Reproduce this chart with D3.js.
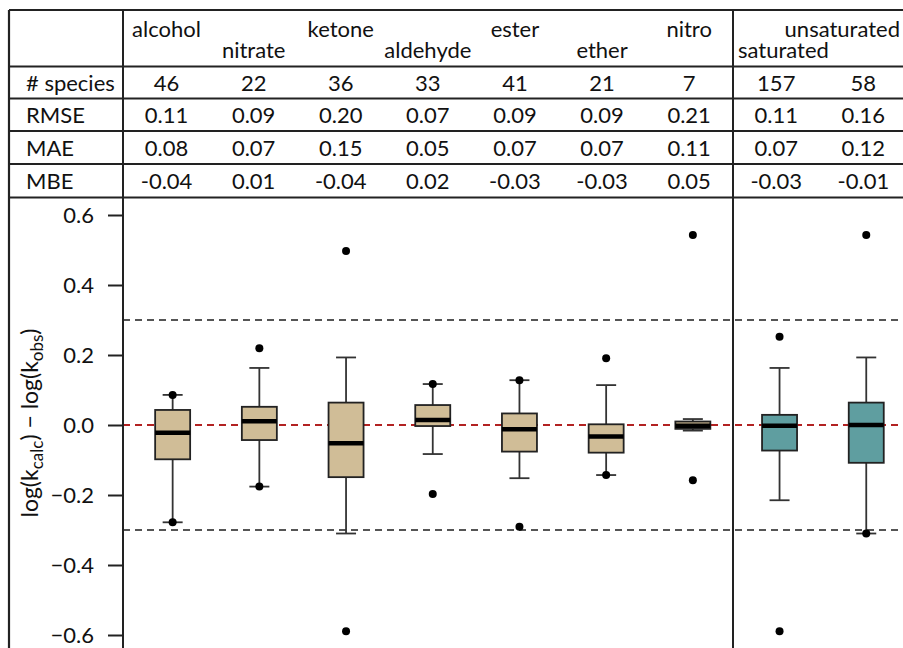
<!DOCTYPE html>
<html>
<head>
<meta charset="utf-8">
<script src="https://cdn.jsdelivr.net/npm/d3@7"></script>
<style>
    body { margin: 0; background: #fff; }
    svg { display: block; font-family: Lato, "Open Sans", sans-serif; }
</style>
</head>
<body>
<svg></svg>
<script>

// table + box data
const categories = ["alcohol", "nitrate", "ketone", "aldehyde", "ester", "ether", "nitro", "saturated", "unsaturated"]
const group = ["tan", "tan", "tan", "tan", "tan", "tan", "tan", "teal", "teal"]
const species = [46, 22, 36, 33, 41, 21, 7, 157, 58]
const rmse = [0.11, 0.09, 0.20, 0.07, 0.09, 0.09, 0.21, 0.11, 0.16]
const mae = [0.08, 0.07, 0.15, 0.05, 0.07, 0.07, 0.11, 0.07, 0.12]
const mbe = [-0.04, 0.01, -0.04, 0.02, -0.03, -0.03, 0.05, -0.03, -0.01]

const whiskerLow = [-0.278, -0.176, -0.310, -0.083, -0.152, -0.143, -0.016, -0.215, -0.310]
const q1 = [-0.098, -0.043, -0.149, -0.003, -0.076, -0.079, -0.011, -0.073, -0.108]
const median = [-0.022, 0.011, -0.052, 0.014, -0.012, -0.033, -0.002, -0.002, 0.000]
const q3 = [0.043, 0.052, 0.064, 0.057, 0.033, 0.002, 0.010, 0.029, 0.064]
const whiskerHigh = [0.086, 0.163, 0.193, 0.117, 0.128, 0.114, 0.017, 0.163, 0.193]
const outliers = [
    [0.086, -0.278],
    [0.219, -0.176],
    [0.497, -0.589],
    [0.117, -0.197],
    [0.128, -0.291],
    [0.191, -0.143],
    [0.543, -0.158],
    [0.252, -0.589],
    [0.543, -0.310]
]

const rowLabels = ["# species", "RMSE", "MAE", "MBE"]
const yTicks = [-0.6, -0.4, -0.2, 0.0, 0.2, 0.4, 0.6]

const w = 903
const h = 648
const frameLeft = 9
const frameTop = 10
const labelCol = 123
const splitX = 733
const rowLines = [66.5, 98.5, 131, 164, 197.5]
const lineColor = "#222"
const fontSize = "22px"

const svg = d3.select("svg")
    .attr("width", w)
    .attr("height", h)

//Scales
const colScale = d3.scaleBand()
    .domain(categories)
    .range([labelCol, labelCol + 87.1 * 9])

const xScale = d3.scaleBand()
    .domain(categories)
    .range([129.3, 129.3 + 86.7 * 9])

const yScale = d3.scaleLinear()
    .domain([-0.6, 0.6])
    .range([635, 215])

const colCenter = c => colScale(c) + colScale.bandwidth() / 2
const boxCenter = c => xScale(c) + xScale.bandwidth() / 2

//Dashed reference lines
svg.append("line")
    .attr("x1", labelCol).attr("x2", w)
    .attr("y1", yScale(0.3)).attr("y2", yScale(0.3))
    .attr("stroke", "#555").attr("stroke-width", 2)
    .attr("stroke-dasharray", "7,5")

svg.append("line")
    .attr("x1", labelCol).attr("x2", w)
    .attr("y1", yScale(-0.3)).attr("y2", yScale(-0.3))
    .attr("stroke", "#555").attr("stroke-width", 2)
    .attr("stroke-dasharray", "7,5")

svg.append("line")
    .attr("x1", labelCol).attr("x2", w)
    .attr("y1", yScale(0)).attr("y2", yScale(0))
    .attr("stroke", "#b22222").attr("stroke-width", 2)
    .attr("stroke-dasharray", "7,5")

//Boxes
const boxW = 35
const capW = 20
const fills = { tan: "#d0bd97", teal: "#5f9ea0" }

const boxes = svg.selectAll("g.box")
    .data(categories)
    .enter()
    .append("g")
    .attr("class", "box")
    .attr("transform", d => `translate(${boxCenter(d)}, 0)`)

boxes.append("line")
    .attr("y1", (d, i) => yScale(whiskerHigh[i]))
    .attr("y2", (d, i) => yScale(whiskerLow[i]))
    .attr("stroke", "#333").attr("stroke-width", 1.8)

boxes.append("line")
    .attr("x1", -capW / 2).attr("x2", capW / 2)
    .attr("y1", (d, i) => yScale(whiskerHigh[i]))
    .attr("y2", (d, i) => yScale(whiskerHigh[i]))
    .attr("stroke", "#333").attr("stroke-width", 1.8)

boxes.append("line")
    .attr("x1", -capW / 2).attr("x2", capW / 2)
    .attr("y1", (d, i) => yScale(whiskerLow[i]))
    .attr("y2", (d, i) => yScale(whiskerLow[i]))
    .attr("stroke", "#333").attr("stroke-width", 1.8)

boxes.append("rect")
    .attr("x", -boxW / 2)
    .attr("width", boxW)
    .attr("y", (d, i) => yScale(q3[i]))
    .attr("height", (d, i) => yScale(q1[i]) - yScale(q3[i]))
    .attr("fill", (d, i) => fills[group[i]])
    .attr("stroke", lineColor).attr("stroke-width", 1.8)

boxes.append("line")
    .attr("x1", -boxW / 2).attr("x2", boxW / 2)
    .attr("y1", (d, i) => yScale(median[i]))
    .attr("y2", (d, i) => yScale(median[i]))
    .attr("stroke", "#000").attr("stroke-width", 4.5)

boxes.selectAll("circle")
    .data((d, i) => outliers[i])
    .enter()
    .append("circle")
    .attr("cy", d => yScale(d))
    .attr("r", 4)
    .attr("fill", "#000")

//Y axis
const leftAxis = d3.axisLeft(yScale)
    .tickValues(yTicks)
    .tickFormat(d3.format(".1f"))
    .tickSize(15)
    .tickPadding(14)

const axisG = svg.append("g")
    .attr("transform", `translate(${labelCol}, 0)`)
    .call(leftAxis)

axisG.select(".domain").remove()
axisG.selectAll(".tick line").attr("stroke", lineColor).attr("stroke-width", 2)
axisG.selectAll(".tick text")
    .attr("fill", "#111")
    .style("font-size", fontSize)
    .style("font-family", "Lato, sans-serif")
    .attr("dy", "0.36em")

//Y label
const yLabel = svg.append("text")
    .attr("transform", "translate(38, 423) rotate(-90)")
    .attr("text-anchor", "middle")
    .attr("fill", "#111")
    .style("font-size", "23px")

yLabel.append("tspan").text("log(k")
yLabel.append("tspan").text("calc").attr("dy", 5).style("font-size", "17px")
yLabel.append("tspan").text(") \u2212 log(k").attr("dy", -5)
yLabel.append("tspan").text("obs").attr("dy", 5).style("font-size", "17px")
yLabel.append("tspan").text(")").attr("dy", -5)

//Table frame
svg.append("line")
    .attr("x1", frameLeft).attr("x2", w)
    .attr("y1", frameTop).attr("y2", frameTop)
    .attr("stroke", lineColor).attr("stroke-width", 2.2)

svg.append("line")
    .attr("x1", frameLeft).attr("x2", frameLeft)
    .attr("y1", frameTop).attr("y2", h)
    .attr("stroke", lineColor).attr("stroke-width", 2.2)

svg.selectAll("line.row")
    .data(rowLines)
    .enter()
    .append("line")
    .attr("class", "row")
    .attr("x1", frameLeft).attr("x2", w)
    .attr("y1", d => d).attr("y2", d => d)
    .attr("stroke", lineColor).attr("stroke-width", 2)

svg.append("line")
    .attr("x1", labelCol).attr("x2", labelCol)
    .attr("y1", frameTop).attr("y2", h)
    .attr("stroke", lineColor).attr("stroke-width", 2)

svg.append("line")
    .attr("x1", splitX).attr("x2", splitX)
    .attr("y1", frameTop).attr("y2", h)
    .attr("stroke", lineColor).attr("stroke-width", 2)

//Header row (labels alternate high / low)
const heads = svg.selectAll("text.head")
    .data(categories)
    .enter()
    .append("text")
    .attr("class", "head")
    .attr("x", d => colCenter(d))
    .attr("y", (d, i) => i % 2 === 0 ? 37 : 58)
    .attr("text-anchor", "middle")
    .attr("fill", "#111")
    .style("font-size", fontSize)
    .text(d => d)

// keep labels clear of the split line and the right edge
heads.attr("x", function (d) {
    const half = this.getComputedTextLength() / 2
    let x = colCenter(d)
    if (x > splitX) x = Math.max(x, splitX + 5 + half)
    return Math.min(x, w - 3 - half)
})

//Body rows
const tableRows = [
    species.map(d => String(d)),
    rmse.map(d => d.toFixed(2)),
    mae.map(d => d.toFixed(2)),
    mbe.map(d => d.toFixed(2))
]

tableRows.forEach((row, r) => {
    const yMid = (rowLines[r] + rowLines[r + 1]) / 2

    svg.append("text")
        .attr("x", 26)
        .attr("y", yMid + 8)
        .attr("fill", "#111")
        .style("font-size", fontSize)
        .text(rowLabels[r])

    svg.selectAll(`text.cell${r}`)
        .data(row)
        .enter()
        .append("text")
        .attr("class", `cell${r}`)
        .attr("x", (d, i) => colCenter(categories[i]))
        .attr("y", yMid + 8)
        .attr("text-anchor", "middle")
        .attr("fill", "#111")
        .style("font-size", fontSize)
        .text(d => d)
})

</script>
</body>
</html>
